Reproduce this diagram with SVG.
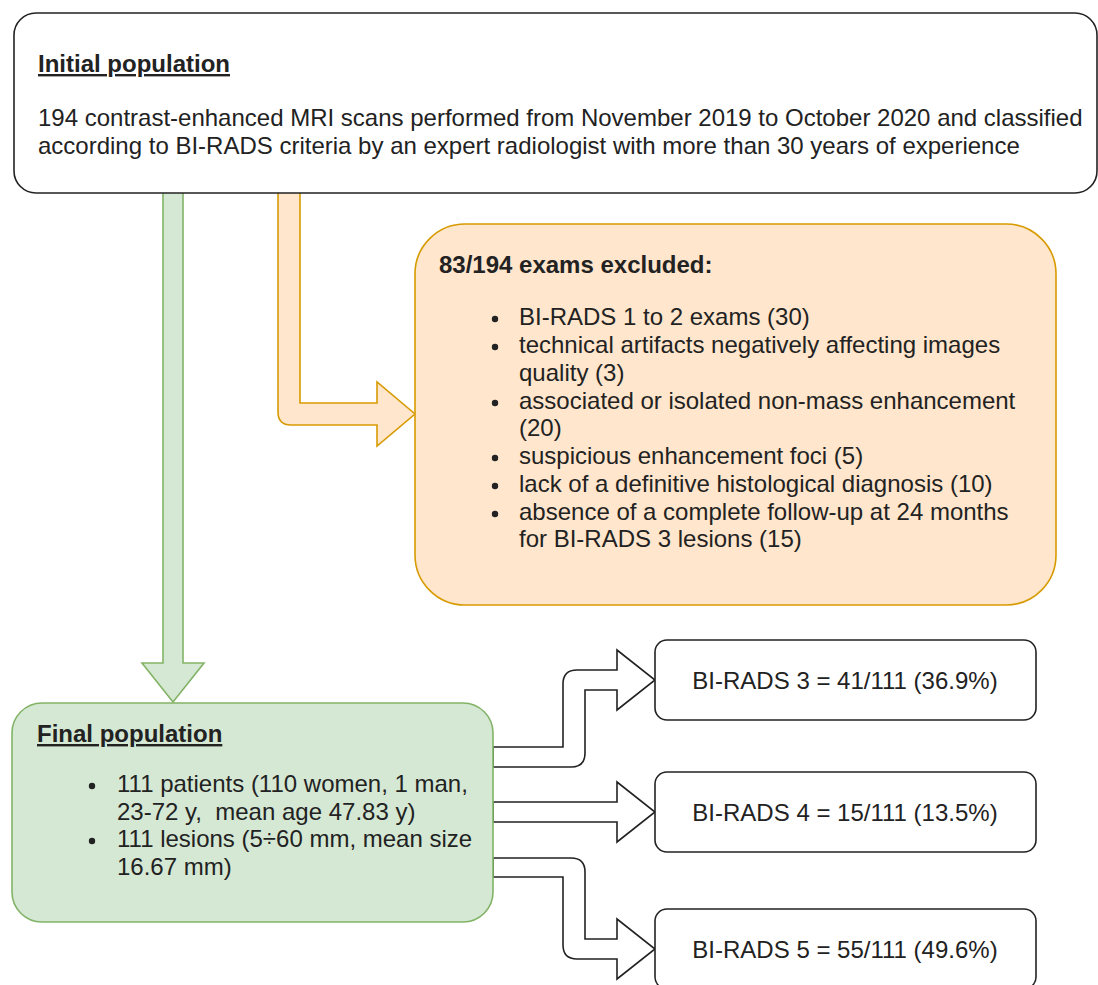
<svg xmlns="http://www.w3.org/2000/svg" width="1098" height="985" viewBox="0 0 1098 985">
<style>
text{font-family:"Liberation Sans",Arial,sans-serif;font-size:24px;fill:#222}
.b{font-weight:bold}
.u{text-decoration:underline}
.mid{text-anchor:middle}
.wbox{fill:#fff;stroke:#222;stroke-width:1.6}
.ob{fill:#ffe6cc;stroke:#d79b00;stroke-width:1.6}
.gb{fill:#d5e8d4;stroke:#82b366;stroke-width:1.6}
.ar{fill:#fff;stroke:#222;stroke-width:1.6;stroke-linejoin:miter}
.dot{fill:#222}
</style>
<rect width="1098" height="985" fill="#fff"/>
<g id="connectors">
<path class="ob" d="M278,190 L278,412 Q278,425 291,425 L377,425 L377,446 L415,414 L377,382 L377,403 L300,403 L300,190 Z"/>
<path class="gb" d="M163,190 L163,663 L142,663 L173,702 L204,663 L183,663 L183,190 Z"/>
<path class="ar" d="M493,747 L563,747 L563,684 Q563,670 577,670 L617,670 L617,650 L655,680 L617,710 L617,690 L585,690 L585,753 Q585,767 571,767 L493,767 Z"/>
<path class="ar" d="M493,802 L617,802 L617,782 L655,812 L617,842 L617,822 L493,822 Z"/>
<path class="ar" d="M493,858 L571,858 Q585,858 585,872 L585,939 L617,939 L617,919 L655,949 L617,979 L617,959 L577,959 Q563,959 563,945 L563,877 L493,877 Z"/>
</g>
<g id="initial">
<rect class="wbox" x="14" y="13" width="1083" height="180" rx="22"/>
<text x="38" y="72" class="b u">Initial population</text>
<text x="38" y="126">194 contrast-enhanced MRI scans performed from November 2019 to October 2020 and classified</text>
<text x="38" y="154">according to BI-RADS criteria by an expert radiologist with more than 30 years of experience</text>
</g>
<g id="excluded">
<rect class="ob" x="415" y="224" width="641" height="381" rx="50"/>
<text x="439" y="273" class="b">83/194 exams excluded:</text>
<circle class="dot" cx="495" cy="319" r="3.2"/>
<circle class="dot" cx="495" cy="347" r="3.2"/>
<circle class="dot" cx="495" cy="403" r="3.2"/>
<circle class="dot" cx="495" cy="458" r="3.2"/>
<circle class="dot" cx="495" cy="486" r="3.2"/>
<circle class="dot" cx="495" cy="514" r="3.2"/>
<text x="519" y="325">BI-RADS 1 to 2 exams (30)</text>
<text x="519" y="353">technical artifacts negatively affecting images</text>
<text x="519" y="381">quality (3)</text>
<text x="519" y="409">associated or isolated non-mass enhancement</text>
<text x="519" y="436">(20)</text>
<text x="519" y="464">suspicious enhancement foci (5)</text>
<text x="519" y="492">lack of a definitive histological diagnosis (10)</text>
<text x="519" y="520">absence of a complete follow-up at 24 months</text>
<text x="519" y="547">for BI-RADS 3 lesions (15)</text>
</g>
<g id="final">
<rect class="gb" x="12" y="703" width="481" height="219" rx="30"/>
<text x="37" y="742" class="b u">Final population</text>
<circle class="dot" cx="92" cy="786" r="3.2"/>
<circle class="dot" cx="92" cy="841" r="3.2"/>
<text x="117" y="792">111 patients (110 women, 1 man,</text>
<text x="117" y="820" xml:space="preserve">23-72 y,  mean age 47.83 y)</text>
<text x="117" y="847">111 lesions (5÷60 mm, mean size</text>
<text x="117" y="875">16.67 mm)</text>
</g>
<g id="birads3">
<rect class="wbox" x="655" y="640" width="381" height="80" rx="12"/>
<text x="845" y="689" class="mid">BI-RADS 3 = 41/111 (36.9%)</text>
</g>
<g id="birads4">
<rect class="wbox" x="655" y="772" width="381" height="80" rx="12"/>
<text x="845" y="821" class="mid">BI-RADS 4 = 15/111 (13.5%)</text>
</g>
<g id="birads5">
<rect class="wbox" x="655" y="909" width="381" height="80" rx="12"/>
<text x="845" y="958" class="mid">BI-RADS 5 = 55/111 (49.6%)</text>
</g>
</svg>
